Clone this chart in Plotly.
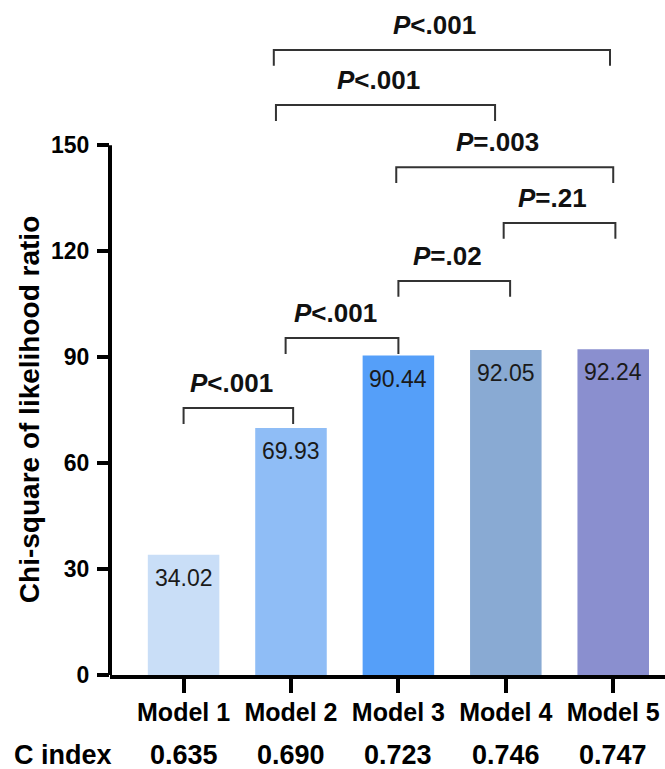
import plotly.graph_objects as go

# ---- data ----
models = ["Model 1", "Model 2", "Model 3", "Model 4", "Model 5"]
chi_square = [34.02, 69.93, 90.44, 92.05, 92.24]
c_index = ["0.635", "0.690", "0.723", "0.746", "0.747"]
bar_colors = ["#C9DEF7", "#8FBDF6", "#559FF9", "#89AAD3", "#8A8FCF"]

# comparisons: (left model index, right model index, label)
comp_left = [0, 1, 2, 3, 2, 1, 1]
comp_right = [1, 2, 3, 4, 4, 3, 4]
comp_label = ["<.001", "<.001", "=.02", "=.21", "=.003", "<.001", "<.001"]
# bracket heights on the chi-square scale
comp_height = [75.6, 95.4, 111.6, 128.0, 143.8, 161.4, 177.0]

y_ticks = [0, 30, 60, 90, 120, 150]

# ---- style ----
FONT = "Arial, Liberation Sans, Helvetica, sans-serif"
xpos = list(range(len(models)))
drop = 4.5
# small horizontal nudges of bracket ends (category units)
left_nudge = [0.0, -0.05, 0.0, -0.02, -0.02, -0.14, -0.16]
right_nudge = [0.02, 0.0, 0.04, 0.02, 0.0, -0.1, -0.03]

fig = go.Figure()
fig.add_trace(go.Bar(
    x=xpos, y=chi_square, width=0.666,
    marker=dict(color=bar_colors, line=dict(width=0)),
    hoverinfo="skip", showlegend=False,
))

annotations = []
shapes = []

# value labels inside bars
for i, v in enumerate(chi_square):
    annotations.append(dict(
        x=i, y=v, xref="x", yref="y", text=f"{v:.2f}", showarrow=False,
        yanchor="middle", yshift=-23,
        font=dict(family=FONT, size=23, color="#1a1a1a"),
    ))

# brackets + p-values
for a, b, lab, h, ln, rn in zip(comp_left, comp_right, comp_label, comp_height, left_nudge, right_nudge):
    x0 = a + ln
    x1 = b + rn
    shapes.append(dict(
        type="path", xref="x", yref="y",
        path=f"M {x0},{h - drop} L {x0},{h} L {x1},{h} L {x1},{h - drop}",
        line=dict(color="#333333", width=2),
    ))
    annotations.append(dict(
        x=(x0 + x1) / 2, y=h, xref="x", yref="y",
        text=f"<b><i>P</i>{lab.replace('<', '&lt;')}</b>", showarrow=False,
        yanchor="middle", yshift=25, xshift=-7,
        font=dict(family=FONT, size=26, color="#111111"),
    ))

# y axis line (only up to 150)
shapes.append(dict(
    type="line", xref="paper", yref="y", x0=0, x1=0, y0=0, y1=150,
    line=dict(color="black", width=4),
))

# y axis title
annotations.append(dict(
    x=0, y=75, xref="paper", yref="y", xshift=-81,
    text="<b>Chi-square of likelihood ratio</b>", textangle=-90,
    showarrow=False, xanchor="center", yanchor="middle",
    font=dict(family=FONT, size=28, color="black"),
))

# C index row
annotations.append(dict(
    x=0, y=0, xref="paper", yref="paper", xanchor="right", yanchor="middle",
    xshift=4, yshift=-80, text="<b>C index</b>", showarrow=False,
    font=dict(family=FONT, size=27, color="black"),
))
for i, c in enumerate(c_index):
    annotations.append(dict(
        x=i, y=0, xref="x", yref="paper", yanchor="middle", yshift=-80,
        text=f"<b>{c}</b>", showarrow=False,
        font=dict(family=FONT, size=27, color="black"),
    ))

fig.update_layout(
    width=665, height=769,
    margin=dict(l=110, r=0, t=4, b=94),
    paper_bgcolor="white", plot_bgcolor="white",
    xaxis=dict(
        range=[-0.685, 4.482], tickvals=xpos, ticktext=models,
        showline=True, linecolor="black", linewidth=4,
        ticks="outside", ticklen=14, tickwidth=3.5, tickcolor="black",
        ticklabelstandoff=-2,
        tickfont=dict(family=FONT, size=25, color="black", weight="bold"),
        showgrid=False, zeroline=False, fixedrange=True,
    ),
    yaxis=dict(
        range=[0, 190], tickvals=y_ticks, ticktext=[str(t) for t in y_ticks],
        showline=False, ticks="outside", ticklen=12, tickwidth=3.5, tickcolor="black",
        ticklabelstandoff=3,
        tickfont=dict(family=FONT, size=23, color="black", weight="bold"),
        showgrid=False, zeroline=False, fixedrange=True,
    ),
    shapes=shapes, annotations=annotations,
)

fig.write_html(
    "out.html",
    config={"displayModeBar": False},
    post_script="document.body.style.margin='0';document.body.style.overflow='hidden';",
)
